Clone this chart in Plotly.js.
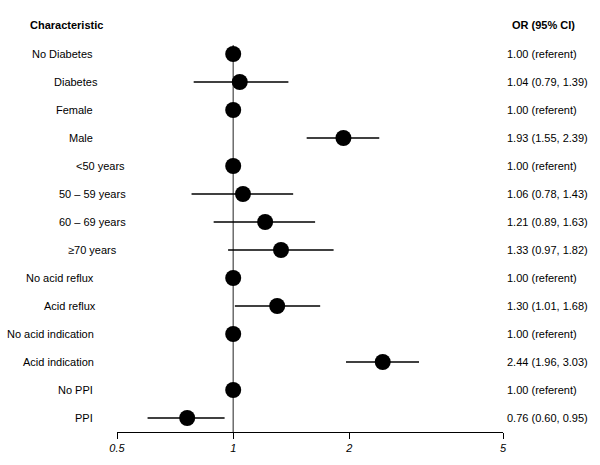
<!DOCTYPE html>
<html>
<head>
<meta charset="utf-8">
<script src="https://cdn.plot.ly/plotly-3.0.1.min.js"></script>
<style>html,body{margin:0;padding:0;background:#fff}#chart{width:600px;height:465px}</style>
</head>
<body>
<div id="chart"></div>
<script>
const characteristics = ["No Diabetes","Diabetes","Female","Male","<50 years","50 – 59 years","60 – 69 years","≥70 years","No acid reflux","Acid reflux","No acid indication","Acid indication","No PPI","PPI"];
const oddsRatios = [1.00,1.04,1.00,1.93,1.00,1.06,1.21,1.33,1.00,1.30,1.00,2.44,1.00,0.76];
const ciLower = [null,0.79,null,1.55,null,0.78,0.89,0.97,null,1.01,null,1.96,null,0.60];
const ciUpper = [null,1.39,null,2.39,null,1.43,1.63,1.82,null,1.68,null,3.03,null,0.95];
const orLabels = ["1.00 (referent)","1.04 (0.79, 1.39)","1.00 (referent)","1.93 (1.55, 2.39)","1.00 (referent)","1.06 (0.78, 1.43)","1.21 (0.89, 1.63)","1.33 (0.97, 1.82)","1.00 (referent)","1.30 (1.01, 1.68)","1.00 (referent)","2.44 (1.96, 3.03)","1.00 (referent)","0.76 (0.60, 0.95)"];
const tickVals = [0.5,1,2,5];
const tickText = ["0.5","1","2","5"];

// layout-only: pixel right edges of the row labels
const labelRightPx = [95,100,95,95,127,128,128,119,96,98,96,96,95,95];

const rows = characteristics.map((_, i) => i);
const plusErr = oddsRatios.map((v, i) => ciUpper[i] == null ? 0 : ciUpper[i] - v);
const minusErr = oddsRatios.map((v, i) => ciLower[i] == null ? 0 : v - ciLower[i]);

const L = 117, R = 97, T = 45, B = 33;
const W = 600 - L - R;
const H = 465 - T - B;
const rowPx = 28;
const yTop = 13.5 - H / rowPx;

const font = {family: "Liberation Sans, Arial, sans-serif", size: 11, color: "#000"};

const annotations = [];
characteristics.forEach((c, i) => {
  annotations.push({
    xref: "paper", yref: "y", x: (labelRightPx[i] - L) / W, y: i,
    text: c.replace("<", "&lt;"), showarrow: false, xanchor: "right", yanchor: "middle", font: font
  });
  annotations.push({
    xref: "paper", yref: "y", x: (505 - L) / W, y: i,
    text: orLabels[i], showarrow: false, xanchor: "left", yanchor: "middle", font: font
  });
});
const headerY = (465 - B - 25) / H;
annotations.push({xref: "paper", yref: "paper", x: (28 - L) / W, y: headerY, text: "<b>Characteristic</b>", showarrow: false, xanchor: "left", yanchor: "middle", font: font});
annotations.push({xref: "paper", yref: "paper", x: (510 - L) / W, y: headerY, text: "<b>OR (95% CI)</b>", showarrow: false, xanchor: "left", yanchor: "middle", font: font});

const trace = {
  type: "scatter", mode: "markers",
  x: oddsRatios, y: rows,
  marker: {size: 16, color: "#000"},
  error_x: {type: "data", symmetric: false, array: plusErr, arrayminus: minusErr, width: 0, thickness: 1.3, color: "#000"},
  cliponaxis: false, hoverinfo: "skip"
};

const layout = {
  width: 600, height: 465,
  margin: {l: L, r: R, t: T, b: B},
  paper_bgcolor: "#fff", plot_bgcolor: "#fff",
  showlegend: false,
  xaxis: {
    type: "log", range: [Math.log10(0.5), Math.log10(5)],
    tickvals: tickVals, ticktext: tickText,
    ticks: "outside", ticklen: 6, tickcolor: "#000", tickwidth: 1,
    showline: true, linecolor: "#000", linewidth: 1,
    showgrid: false, zeroline: false,
    tickfont: {family: "Liberation Sans, Arial, sans-serif", size: 11, color: "#000", style: "italic"},
    fixedrange: true
  },
  yaxis: {
    range: [13.5, yTop], showticklabels: false, showgrid: false, zeroline: false,
    showline: false, ticks: "", fixedrange: true
  },
  shapes: [{
    type: "line", xref: "x", yref: "paper", x0: 1, x1: 1, y0: 0, y1: 1,
    line: {color: "#555", width: 1.3}, layer: "below"
  }],
  annotations: annotations
};

Plotly.newPlot("chart", [trace], layout, {staticPlot: true, displayModeBar: false});
</script>
</body>
</html>
